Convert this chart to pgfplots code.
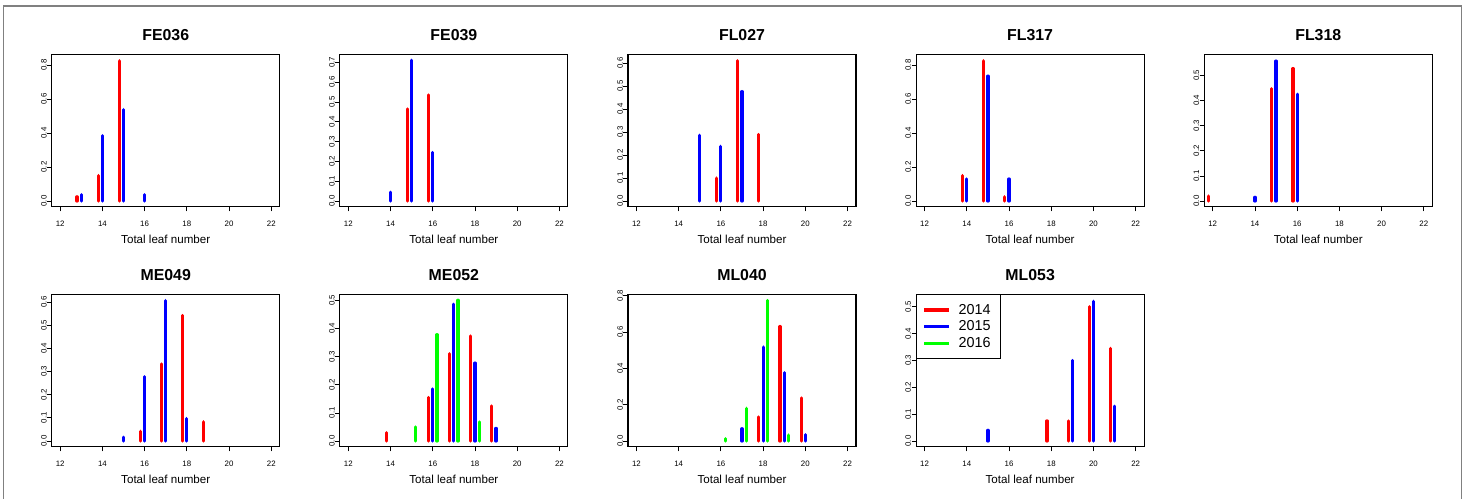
\documentclass[border=0pt]{standalone}
\usepackage{pgfplots}
\pgfplotsset{compat=1.18}
\usepackage{fontspec}
\setmainfont{Liberation Sans}
\definecolor{rred}{RGB}{255,0,0}
\definecolor{rblue}{RGB}{0,0,255}
\definecolor{rgreen}{RGB}{0,255,0}
\pgfplotsset{
  panel/.style={
    scale only axis, width=171pt, height=114.3pt, anchor=south west,
    xmin=11.6, xmax=22.4, xtick={12,14,...,22},
    axis line style={line width=0.8pt},
    tick style={black, line width=0.6pt}, major tick length=3.4pt, tick align=outside,
    xtick pos=bottom, ytick pos=left,
    /pgf/number format/assume math mode=true,
    ticklabel style={font=\fontsize{5.9}{6}\selectfont},
    xticklabel style={anchor=center, yshift=-1pt},
    xticklabel shift=8.2pt,
    yticklabel style={rotate=90, anchor=center, /pgf/number format/.cd, fixed, fixed zerofill, precision=1},
    yticklabel shift=2.5pt,
    title style={font=\bfseries\fontsize{11.9}{12}\selectfont, at={(0.5,1)}, anchor=center, yshift=8.5pt},
    xlabel={Total leaf number},
    xlabel style={font=\fontsize{8.7}{9}\selectfont, at={(0.5,0)}, anchor=center, yshift=-24.2pt},
  },
  bar/.style={ycomb, mark=none, line width=2.4pt, line cap=round},
}
\begin{document}
\begin{tikzpicture}
\path[use as bounding box] (0,0) rectangle (1098.75pt,374.25pt);
\draw[gray, line width=0.9pt] (2.5pt,0pt) -- (2.5pt,369.75pt) -- (1096.3pt,369.75pt) -- (1096.3pt,0pt);
% ---------------- Row 1 ----------------
\begin{axis}[panel, at={(38.8pt,219.2pt)}, title={FE036}, ymin=-0.0333, ymax=0.863, ytick={0,0.2,...,0.8}]
\addplot[bar, rred] coordinates {(12.8,0.025) (13.8,0.15) (14.8,0.825)};
\addplot[bar, rblue] coordinates {(13,0.038) (14,0.385) (15,0.538) (16,0.038)};
\end{axis}
\begin{axis}[panel, at={(254.9pt,219.2pt)}, title={FE039}, ymin=-0.0286, ymax=0.740, ytick={0,0.1,...,0.7}]
\addplot[bar, rred] coordinates {(14.8,0.465) (15.8,0.535)};
\addplot[bar, rblue] coordinates {(14,0.045) (15,0.71) (16,0.245)};
\end{axis}
\begin{axis}[panel, at={(471.0pt,219.2pt)}, title={FL027}, ymin=-0.0246, ymax=0.638, ytick={0,0.1,...,0.6}]
\addplot[bar, rred] coordinates {(15.8,0.1) (16.8,0.61) (17.8,0.29)};
\addplot[bar, rblue] coordinates {(15,0.286) (16,0.238) (17,0.476)};
\end{axis}
\begin{axis}[panel, at={(687.1pt,219.2pt)}, title={FL317}, ymin=-0.0333, ymax=0.863, ytick={0,0.2,...,0.8}]
\addplot[bar, rred] coordinates {(13.8,0.15) (14.8,0.825) (15.8,0.025)};
\addplot[bar, rblue] coordinates {(14,0.13) (15,0.735) (16,0.13)};
\end{axis}
\begin{axis}[panel, at={(903.2pt,219.2pt)}, title={FL318}, ymin=-0.0225, ymax=0.5836, ytick={0,0.1,...,0.5}]
\addplot[bar, rred] coordinates {(11.8,0.02) (14.8,0.447) (15.8,0.527)};
\addplot[bar, rblue] coordinates {(14,0.015) (15,0.557) (16,0.425)};
\end{axis}
% ---------------- Row 2 ----------------
\begin{axis}[panel, at={(38.8pt,39.2pt)}, title={ME049}, ymin=-0.0245, ymax=0.633, ytick={0,0.1,...,0.6}]
\addplot[bar, rred] coordinates {(15.8,0.042) (16.8,0.333) (17.8,0.542) (18.8,0.083)};
\addplot[bar, rblue] coordinates {(15,0.017) (16,0.278) (17,0.606) (18,0.097)};
\end{axis}
\begin{axis}[panel, at={(254.9pt,39.2pt)}, title={ME052}, ymin=-0.0201, ymax=0.521, ytick={0,0.1,...,0.5}]
\addplot[bar, rred] coordinates {(13.8,0.03) (15.8,0.155) (16.8,0.31) (17.8,0.373) (18.8,0.125)};
\addplot[bar, rblue] coordinates {(16,0.185) (17,0.486) (18,0.277) (19,0.045)};
\addplot[bar, rgreen] coordinates {(15.2,0.05) (16.2,0.378) (17.2,0.5) (18.2,0.068)};
\end{axis}
\begin{axis}[panel, at={(471.0pt,39.2pt)}, title={ML040}, ymin=-0.0312, ymax=0.807, ytick={0,0.2,...,0.8}]
\addplot[bar, rred] coordinates {(17.8,0.133) (18.8,0.63) (19.8,0.237)};
\addplot[bar, rblue] coordinates {(17,0.068) (18,0.517) (19,0.376) (20,0.035)};
\addplot[bar, rgreen] coordinates {(16.2,0.013) (17.2,0.18) (18.2,0.773) (19.2,0.033)};
\end{axis}
\begin{axis}[panel, at={(687.1pt,39.2pt)}, title={ML053}, ymin=-0.0211, ymax=0.546, ytick={0,0.1,...,0.5},
  legend style={at={(0,1)}, anchor=north west, draw=black, line width=0.6pt, font=\fontsize{10.8}{11.25}\selectfont,
    inner xsep=4.5pt, inner ysep=5pt, row sep=-0.5pt, legend cell align=left,
    nodes={inner xsep=3pt}},
  legend image code/.code={\draw[#1, line width=2.4pt] (0pt,0pt) -- (18.75pt,0pt); \path (22.5pt,0pt);}]
\addlegendimage{rred}\addlegendentry{2014}
\addlegendimage{rblue}\addlegendentry{2015}
\addlegendimage{rgreen}\addlegendentry{2016}
\addplot[bar, rred, forget plot] coordinates {(17.8,0.075) (18.8,0.075) (19.8,0.5) (20.8,0.345)};
\addplot[bar, rblue, forget plot] coordinates {(15,0.04) (19,0.30) (20,0.52) (21,0.13)};
\end{axis}
\end{tikzpicture}
\end{document}
